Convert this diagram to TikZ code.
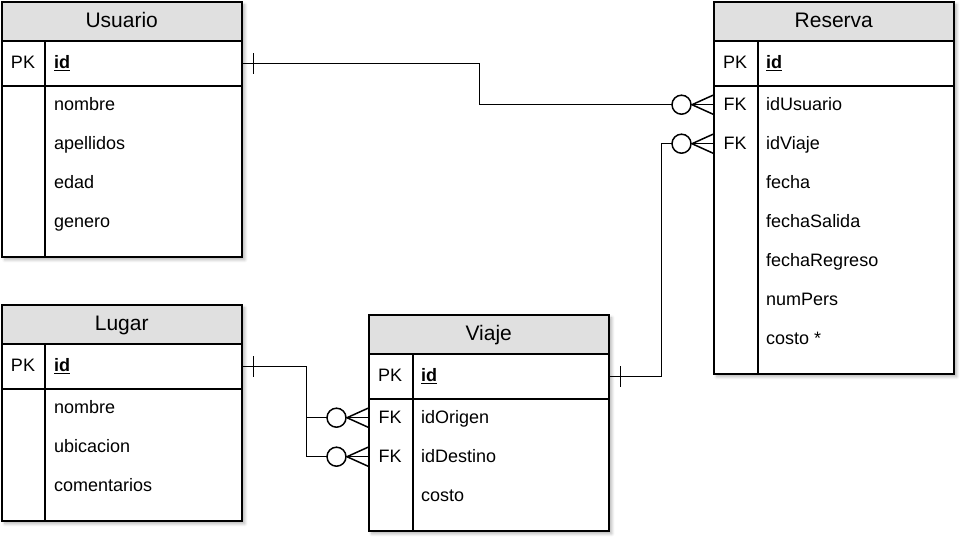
\documentclass[tikz,border=0pt]{standalone}
\usepackage{fontspec}
\setmainfont{Liberation Sans}
\usetikzlibrary{shadows.blur}
\definecolor{hdrgray}{HTML}{E0E0E0}
\tikzset{
  outer/.style={draw=black, line width=1.5pt, fill=white, rectangle, inner sep=0pt, anchor=north west,
    blur shadow={shadow xshift=3pt, shadow yshift=-3pt, shadow blur steps=6, shadow blur radius=3pt, shadow opacity=30}},
  hdr/.style={draw=black, line width=1.5pt, fill=hdrgray, rectangle, inner sep=0pt, anchor=north west,
    minimum width=240pt, minimum height=39pt},
  hdrtxt/.style={inner sep=0pt, text height=15pt, text depth=2pt, font=\fontsize{21}{25}\selectfont},
  pkrow/.style={draw=black, line width=1.5pt, rectangle, inner sep=0pt, anchor=north west,
    minimum width=240pt, minimum height=45pt},
  slot/.style={rectangle, inner sep=0pt, anchor=north west, minimum width=240pt, minimum height=39pt},
  fldtxt/.style={anchor=west, inner sep=0pt, text height=14pt, text depth=3pt, font=\fontsize{18}{22}\selectfont},
  keytxt/.style={inner sep=0pt, text height=14pt, text depth=3pt, font=\fontsize{18}{22}\selectfont},
  conn/.style={draw=black, line width=1.5pt},
  sepline/.style={draw=black, line width=1.5pt},
}
% #1 name, #2 x, #3 ytop, #4 key, #5 text
\newcommand\erslot[5]{%
  \node[slot] (#1) at (#2,#3) {};
  \node[fldtxt] (#1-t) at ([xshift=53pt]#1.west) {#5};
  \node[keytxt] (#1-k) at ([xshift=22pt]#1.west) {#4};
}
\newcommand\erpk[3]{% name, x, ytop
  \node[pkrow] (#1) at (#2,#3) {};
  \node[fldtxt] (#1-t) at ([xshift=53pt]#1.west) {\textbf{\underline{id}}};
  \node[keytxt] (#1-k) at ([xshift=22pt]#1.west) {PK};
}
\newcommand\erhead[4]{% name, x, ytop, title
  \node[hdr] (#1) at (#2,#3) {};
  \node[hdrtxt] (#1-t) at (#1.center) {#4};
}
\newcommand\ercrow[1]{% crow's foot with circle at west of node #1
  \draw[conn] ([xshift=-21pt]#1.west) -- ([yshift=9.5pt]#1.west);
  \draw[conn] ([xshift=-21pt]#1.west) -- ([yshift=-9.5pt]#1.west);
  \draw[conn] ([xshift=-21pt]#1.west) -- (#1.west);
  \draw[conn, fill=white] ([xshift=-31.5pt]#1.west) circle[radius=9.5pt];
}
\newcommand\ertick[2]{% tick at east of node #1 shifted #2
  \draw[conn] ([xshift=#2,yshift=-10.5pt]#1.east) -- ([xshift=#2,yshift=10.5pt]#1.east);
}
\begin{document}
\begin{tikzpicture}[x=1pt,y=-1pt]
\useasboundingbox (0,0) rectangle (971,549);

% ===== Usuario =====
\node[outer, minimum width=240pt, minimum height=255pt] (usuario) at (1,1) {};
\erhead{usuarioH}{1}{1}{Usuario}
\erpk{usuPK}{1}{40}
\draw[sepline] (45,40) -- (45,256);
\erslot{usuNom}{1}{85}{}{nombre}
\erslot{usuApe}{1}{124}{}{apellidos}
\erslot{usuEdad}{1}{163}{}{edad}
\erslot{usuGen}{1}{202}{}{genero}

% ===== Reserva =====
\node[outer, minimum width=240pt, minimum height=372pt] (reserva) at (713,1) {};
\erhead{reservaH}{713}{1}{Reserva}
\erpk{resPK}{713}{40}
\draw[sepline] (758,40) -- (758,373);
\erslot{resUsr}{713}{85}{FK}{idUsuario}
\erslot{resVia}{713}{124}{FK}{idViaje}
\erslot{resFec}{713}{163}{}{fecha}
\erslot{resSal}{713}{202}{}{fechaSalida}
\erslot{resReg}{713}{241}{}{fechaRegreso}
\erslot{resNum}{713}{280}{}{numPers}
\erslot{resCos}{713}{319}{}{costo *}

% ===== Lugar =====
\node[outer, minimum width=240pt, minimum height=216pt] (lugar) at (1,304) {};
\erhead{lugarH}{1}{304}{Lugar}
\erpk{lugPK}{1}{343}
\draw[sepline] (45,343) -- (45,520);
\erslot{lugNom}{1}{388}{}{nombre}
\erslot{lugUbi}{1}{427}{}{ubicacion}
\erslot{lugCom}{1}{466}{}{comentarios}

% ===== Viaje =====
\node[outer, minimum width=240pt, minimum height=216pt] (viaje) at (368,314) {};
\erhead{viajeH}{368}{314}{Viaje}
\erpk{viaPK}{368}{353}
\draw[sepline] (413,353) -- (413,530);
\erslot{viaOri}{368}{398}{FK}{idOrigen}
\erslot{viaDes}{368}{437}{FK}{idDestino}
\erslot{viaCos}{368}{476}{}{costo}

% ===== Connectors =====
\draw[conn] (usuPK.east) -- ++(237,0) |- (resUsr.west);
\ertick{usuPK}{11pt}
\ercrow{resUsr}

\draw[conn] (viaPK.east) -- ++(52,0) |- (resVia.west);
\ertick{viaPK}{11pt}
\ercrow{resVia}

\draw[conn] (lugPK.east) -- ++(64,0) |- (viaOri.west);
\draw[conn] (lugPK.east) -- ++(64,0) |- (viaDes.west);
\ertick{lugPK}{11pt}
\ercrow{viaOri}
\ercrow{viaDes}
\end{tikzpicture}
\end{document}
